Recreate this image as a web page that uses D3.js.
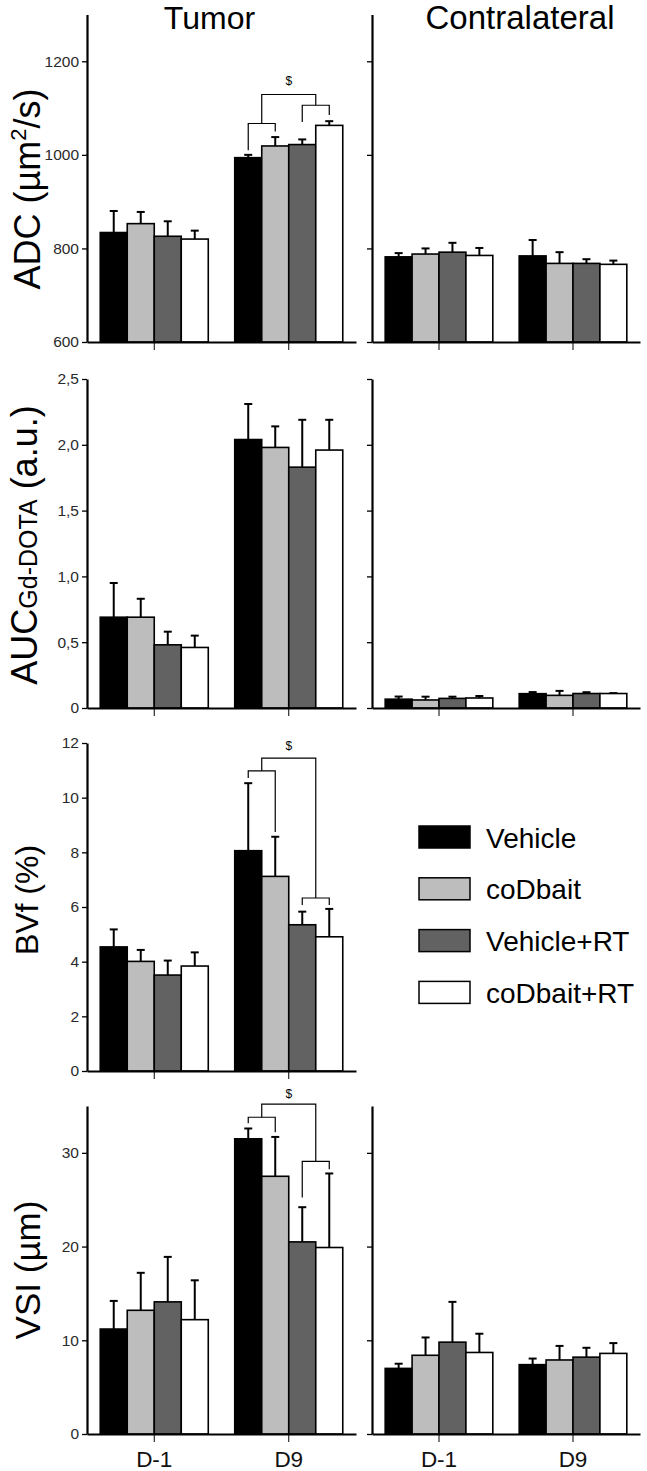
<!DOCTYPE html>
<html><head><meta charset="utf-8">
<script src="https://cdn.jsdelivr.net/npm/d3@7"></script>
<style>body{margin:0;background:#fff}svg{display:block}</style>
</head><body><svg id="c" width="647" height="1471"></svg>
<script>
// ---------------- data ----------------
const groups = ["D-1", "D9"];
const series = ["Vehicle", "coDbait", "Vehicle+RT", "coDbait+RT"];
const columnTitles = ["Tumor", "Contralateral"];

const adcTicks = [600, 800, 1000, 1200];
const adcTumorMean = [[834, 853, 826, 820], [994, 1019, 1022, 1063]];
const adcTumorErr  = [[46, 25, 32, 18], [6, 19, 11, 9]];
const adcContraMean = [[782, 788, 792, 785], [784, 768, 768, 766]];
const adcContraErr  = [[8, 12, 20, 16], [34, 24, 9, 8]];

const aucTicks = [0, 0.5, 1.0, 1.5, 2.0, 2.5];
const aucTumorMean = [[0.69, 0.69, 0.48, 0.46], [2.04, 1.98, 1.83, 1.96]];
const aucTumorErr  = [[0.26, 0.14, 0.10, 0.09], [0.27, 0.16, 0.36, 0.23]];
const aucContraMean = [[0.067, 0.061, 0.073, 0.076], [0.109, 0.096, 0.11, 0.11]];
const aucContraErr  = [[0.02, 0.025, 0.013, 0.015], [0.012, 0.034, 0.01, 0.003]];

const bvfTicks = [0, 2, 4, 6, 8, 10, 12];
const bvfTumorMean = [[4.54, 4.01, 3.51, 3.84], [8.06, 7.12, 5.35, 4.91]];
const bvfTumorErr  = [[0.64, 0.42, 0.53, 0.50], [2.47, 1.45, 0.48, 1.02]];

const vsiTicks = [0, 10, 20, 30];
const vsiTumorMean = [[11.2, 13.2, 14.1, 12.2], [31.5, 27.5, 20.5, 19.9]];
const vsiTumorErr  = [[3.0, 4.0, 4.8, 4.2], [1.1, 4.2, 3.7, 7.9]];
const vsiContraMean = [[7.0, 8.4, 9.8, 8.7], [7.4, 7.9, 8.2, 8.6]];
const vsiContraErr  = [[0.5, 1.9, 4.3, 2.0], [0.65, 1.5, 1.0, 1.1]];

// significance brackets (group index, series positions, values)
const adcBrackets = [
  {g: 1, a: 0, b: 1, top: 1067, aEnd: 1010, bEnd: 1050},
  {g: 1, a: 2, b: 3, top: 1106, aEnd: 1070, bEnd: 1085},
  {g: 1, a: 0.5, b: 2.5, top: 1129, aEnd: 1067, bEnd: 1106}
];
const adcMarks = [{g: 1, pos: 1.5, value: 1150, text: "$"}];
const bvfBrackets = [
  {g: 1, a: 0, b: 1, top: 10.98, aEnd: 10.72, bEnd: 8.74},
  {g: 1, a: 2, b: 3, top: 6.33, aEnd: 6.07, bEnd: 6.07},
  {g: 1, a: 0.5, b: 2.5, top: 11.45, aEnd: 10.98, bEnd: 6.33}
];
const bvfMarks = [{g: 1, pos: 1.5, value: 11.75, text: "$"}];
const vsiBrackets = [
  {g: 1, a: 0, b: 1, top: 33.8, aEnd: 33.16, bEnd: 32.2},
  {g: 1, a: 2, b: 3, top: 29.09, aEnd: 25.24, bEnd: 28.24},
  {g: 1, a: 0.5, b: 2.5, top: 35.19, aEnd: 33.8, bEnd: 29.09}
];
const vsiMarks = [{g: 1, pos: 1.5, value: 35.9, text: "$"}];

// ---------------- styles / layout ----------------
const seriesColors = ["#000000", "#bdbdbd", "#626262", "#ffffff"];
const FONT = "'Liberation Sans', Arial, Helvetica, sans-serif";
const colX = [[87, 356], [372, 640]];

const svg = d3.select("#c");
svg.append("rect").attr("width", 647).attr("height", 1471).attr("fill", "#fff");

const commaFmt = d => d === 0 ? "0" : d3.format(".1f")(d).replace(".", ",");

const panels = [
  {domain: [600, 1300], range: [342, 14.5], ticks: adcTicks, fmt: d3.format("d"),
   cols: [{mean: adcTumorMean, err: adcTumorErr, brackets: adcBrackets, marks: adcMarks},
          {mean: adcContraMean, err: adcContraErr}],
   label: "adc", labelX: 40, labelY: 189},
  {domain: [0, 2.5], range: [708, 379], ticks: aucTicks, fmt: commaFmt,
   cols: [{mean: aucTumorMean, err: aucTumorErr}, {mean: aucContraMean, err: aucContraErr}],
   label: "auc", labelX: 37, labelY: 545},
  {domain: [0, 12], range: [1071, 743], ticks: bvfTicks, fmt: d3.format("d"),
   cols: [{mean: bvfTumorMean, err: bvfTumorErr, brackets: bvfBrackets, marks: bvfMarks}, null],
   label: "bvf", labelX: 38, labelY: 900},
  {domain: [0, 35], range: [1434, 1106], ticks: vsiTicks, fmt: d3.format("d"),
   cols: [{mean: vsiTumorMean, err: vsiTumorErr, brackets: vsiBrackets, marks: vsiMarks},
          {mean: vsiContraMean, err: vsiContraErr}],
   label: "vsi", labelX: 40, labelY: 1270, xLabels: true}
];

panels.forEach(p => {
  const y = d3.scaleLinear().domain(p.domain).range(p.range);
  p.cols.forEach((col, ci) => {
    if (!col) return;
    const x0 = d3.scaleBand().domain(groups).range(colX[ci]).paddingInner(0).paddingOuter(0);
    const x1 = d3.scaleBand().domain(series).range([0, x0.bandwidth()]).paddingInner(0).paddingOuter(0.49);
    const cx = (g, s) => x0(groups[g]) + x1(series[0]) + x1.step() * s + x1.bandwidth() / 2;
    const gAx = svg.append("g");

    // bars with error bars
    groups.forEach((grp, gi) => {
      series.forEach((s, si) => {
        const v = col.mean[gi][si], e = col.err[gi][si];
        const xc = cx(gi, si);
        gAx.append("line").attr("x1", xc).attr("x2", xc)
          .attr("y1", y(v)).attr("y2", y(v + e))
          .attr("stroke", "#000").attr("stroke-width", 2);
        gAx.append("line").attr("x1", xc - 4).attr("x2", xc + 4)
          .attr("y1", y(v + e)).attr("y2", y(v + e))
          .attr("stroke", "#000").attr("stroke-width", 2);
        gAx.append("rect")
          .attr("x", x0(grp) + x1(s)).attr("y", y(v))
          .attr("width", x1.bandwidth()).attr("height", y(p.domain[0]) - y(v))
          .attr("fill", seriesColors[si]).attr("stroke", "#000").attr("stroke-width", 1.6);
      });
    });

    // brackets
    (col.brackets || []).forEach(b => {
      const xa = cx(b.g, b.a), xb = cx(b.g, b.b);
      gAx.append("path")
        .attr("d", `M${xa},${y(b.aEnd)}V${y(b.top)}H${xb}V${y(b.bEnd)}`)
        .attr("fill", "none").attr("stroke", "#000").attr("stroke-width", 1.2);
    });
    (col.marks || []).forEach(m => {
      gAx.append("text").attr("x", cx(m.g, m.pos)).attr("y", y(m.value))
        .attr("text-anchor", "middle").attr("font-family", FONT).attr("font-size", 12)
        .attr("fill", "#000").text(m.text);
    });

    // y axis
    const yAxis = d3.axisLeft(y).tickValues(p.ticks).tickSize(5).tickSizeOuter(0).tickPadding(3)
      .tickFormat(ci === 0 ? p.fmt : "");
    const ya = svg.append("g").attr("transform", `translate(${colX[ci][0]},0)`).call(yAxis);
    ya.select(".domain").attr("stroke", "#000").attr("stroke-width", 2.2);
    ya.selectAll(".tick line").attr("stroke", "#000").attr("stroke-width", 1.3);
    ya.selectAll(".tick text").attr("font-family", FONT).attr("font-size", 15.5).attr("fill", "#2a2a2a");

    // x axis
    const xAxis = d3.axisBottom(x0).tickSize(8).tickSizeOuter(0).tickPadding(9)
      .tickFormat(p.xLabels ? (d => d) : "");
    const xa = svg.append("g").attr("transform", `translate(0,${y(p.domain[0])})`).call(xAxis);
    xa.select(".domain").attr("stroke", "#000").attr("stroke-width", 2.2);
    xa.selectAll(".tick line").attr("stroke", "#000").attr("stroke-width", 1);
    xa.selectAll(".tick text").attr("font-family", FONT).attr("font-size", 22.5).attr("fill", "#111");
  });

  // y label
  const t = svg.append("text").attr("transform", `translate(${p.labelX},${p.labelY}) rotate(-90)`)
    .attr("text-anchor", "middle").attr("font-family", FONT).attr("fill", "#000");
  if (p.label === "adc") {
    t.attr("font-size", 36);
    t.append("tspan").text("ADC (µm");
    t.append("tspan").attr("font-size", 22).attr("dy", -14).text("2");
    t.append("tspan").attr("dy", 14).text("/s)");
  } else if (p.label === "auc") {
    t.attr("font-size", 36);
    t.append("tspan").text("AUC");
    t.append("tspan").attr("font-size", 25).text("Gd-DOTA");
    t.append("tspan").text(" (a.u.)");
  } else if (p.label === "bvf") {
    t.attr("font-size", 32).text("BVf (%)");
  } else {
    t.attr("font-size", 35).text("VSI (µm)");
  }
});

// column titles
svg.append("text").attr("x", 209.5).attr("y", 29).attr("text-anchor", "middle")
  .attr("font-family", FONT).attr("font-size", 32).text(columnTitles[0]);
svg.append("text").attr("x", 520).attr("y", 29).attr("text-anchor", "middle")
  .attr("font-family", FONT).attr("font-size", 33).text(columnTitles[1]);

// legend
const lg = svg.append("g").attr("transform", "translate(419,826)");
series.forEach((s, i) => {
  const row = lg.append("g").attr("transform", `translate(0,${i * 51.8})`);
  row.append("rect").attr("width", 51).attr("height", 22)
    .attr("fill", seriesColors[i]).attr("stroke", "#000").attr("stroke-width", 1.5);
  row.append("text").attr("x", 67).attr("y", 21.5).attr("font-family", FONT)
    .attr("font-size", 28).attr("fill", "#000").text(s);
});
</script>
</body></html>
